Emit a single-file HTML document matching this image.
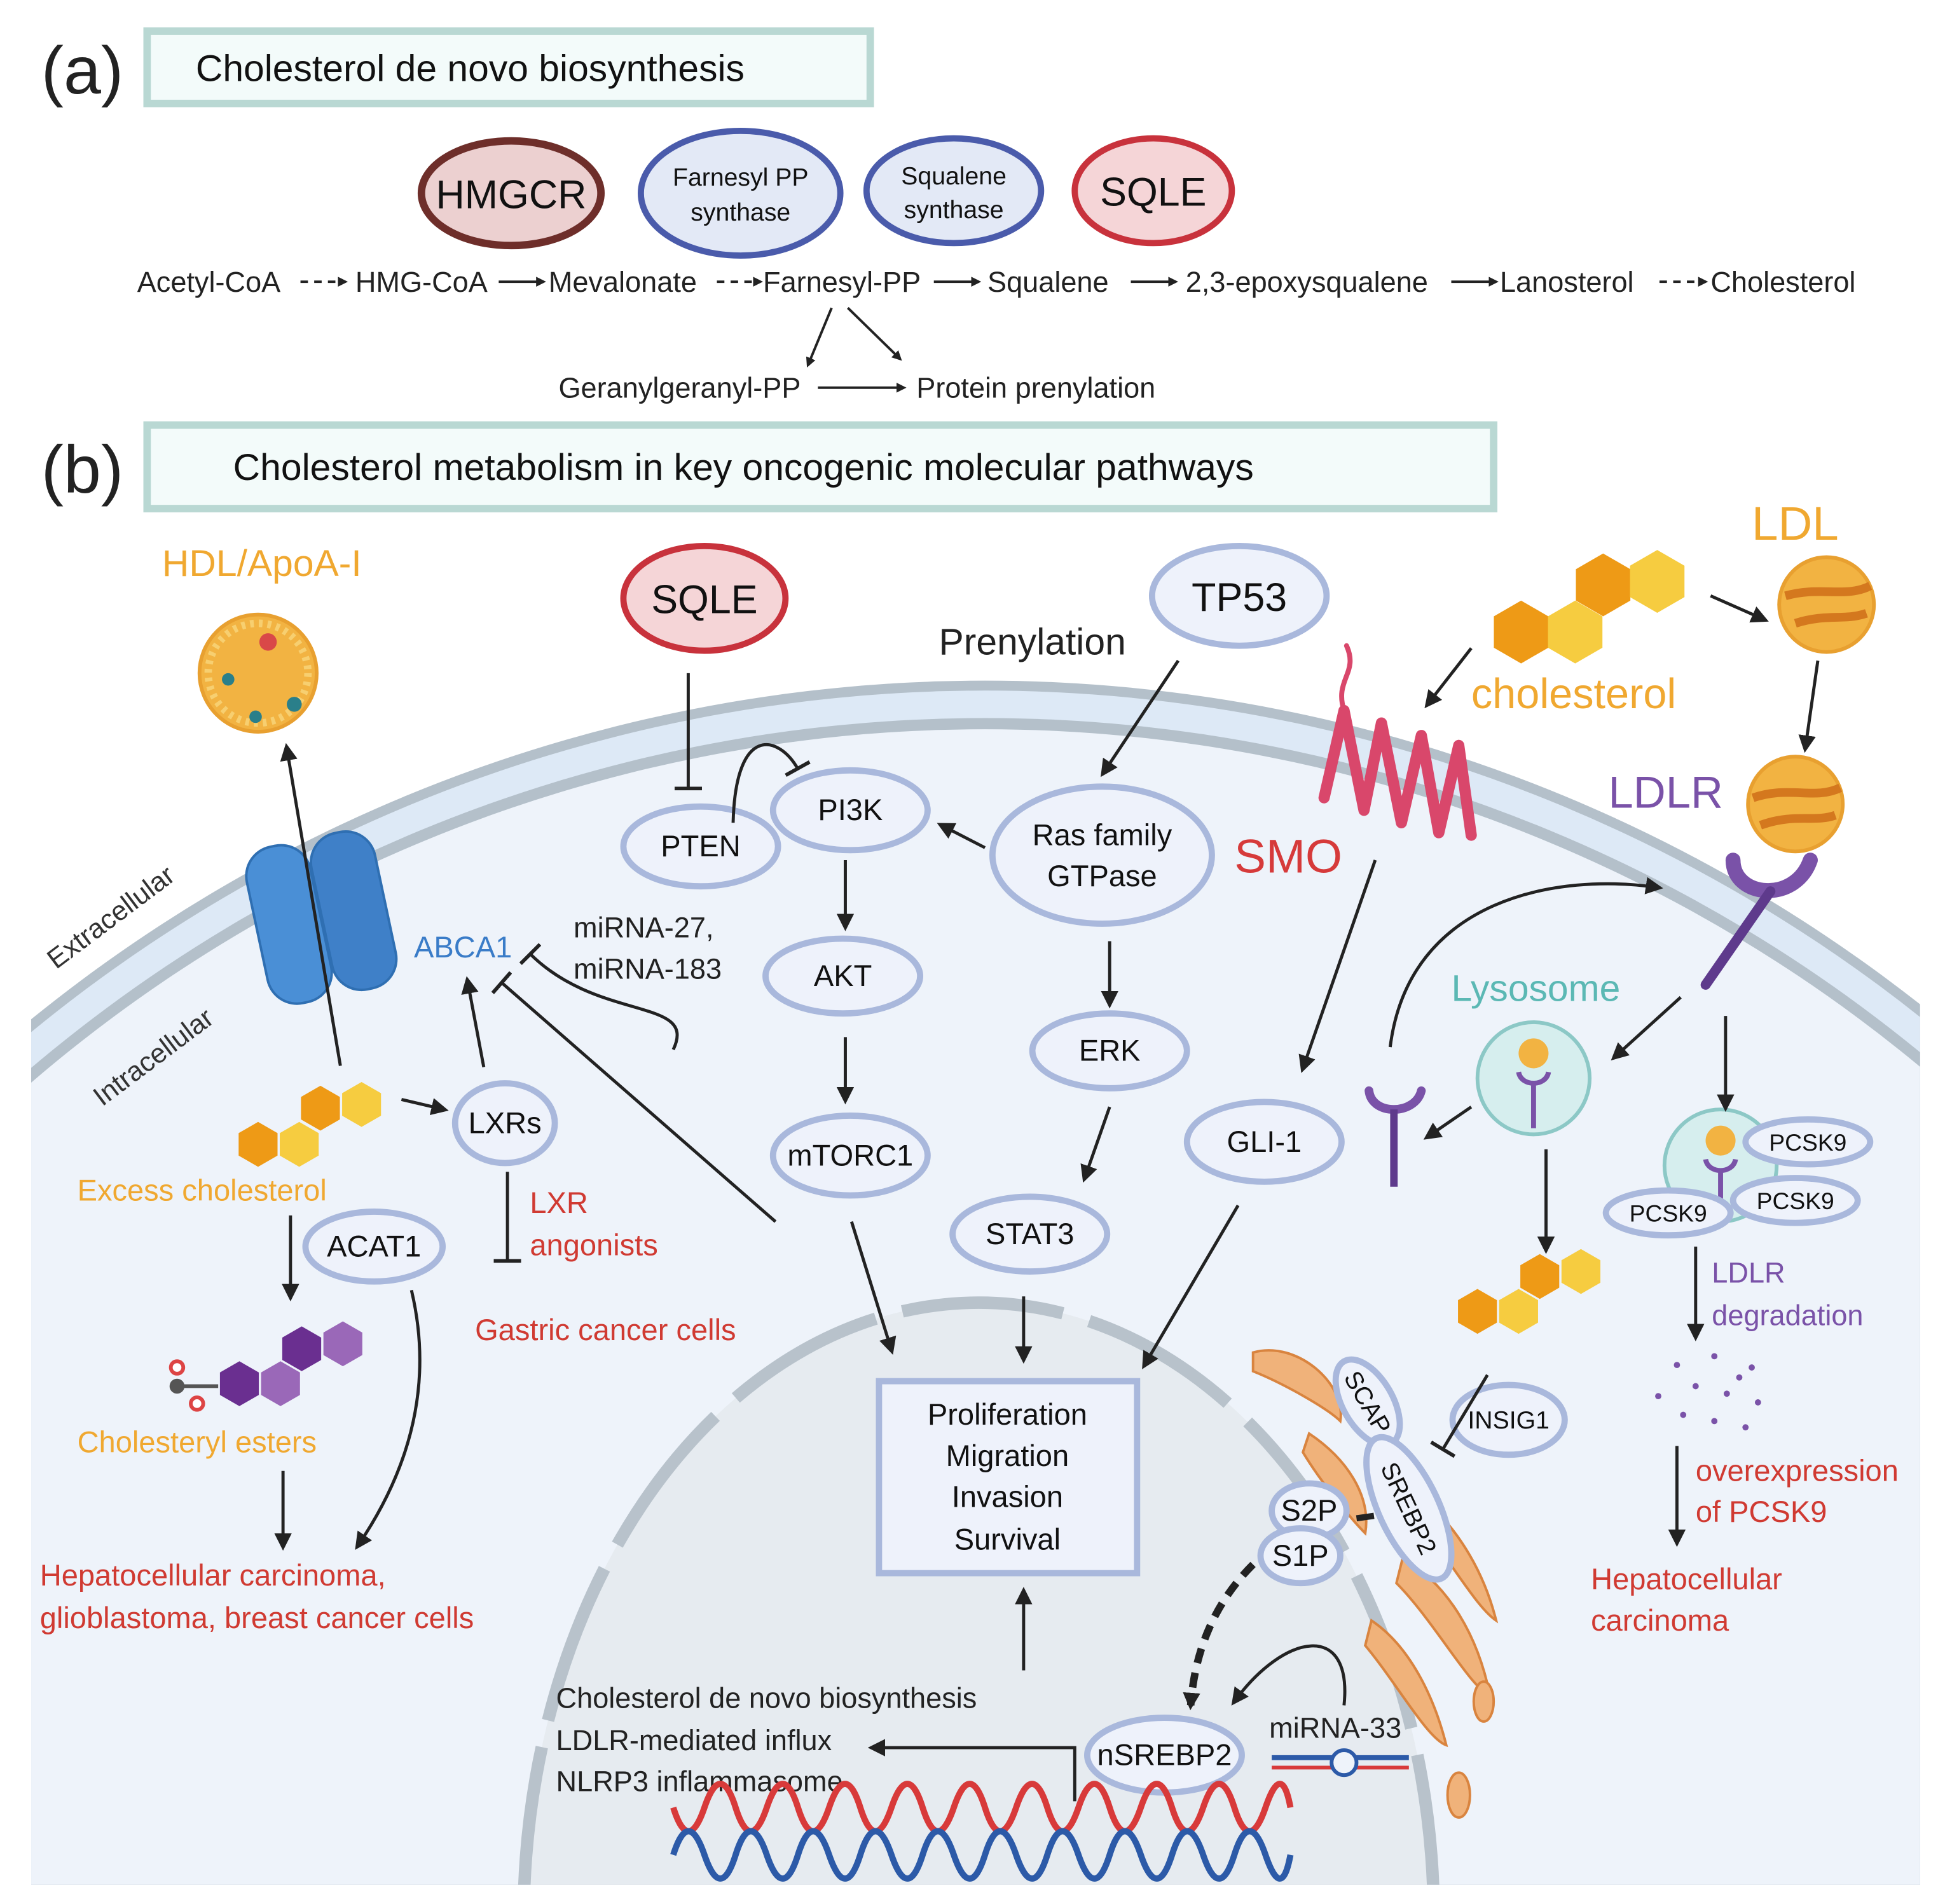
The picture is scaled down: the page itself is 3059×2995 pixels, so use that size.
<!DOCTYPE html>
<html><head><meta charset="utf-8"><style>
html,body{margin:0;padding:0;background:#fff;width:3059px;height:2995px;overflow:hidden}
svg{display:block}
text{font-family:"Liberation Sans",sans-serif}
</style></head><body>
<svg width="3059" height="2995" viewBox="0 0 1560 1527.4" preserveAspectRatio="none" xmlns="http://www.w3.org/2000/svg">
<defs>
<marker id="ar" markerWidth="8" markerHeight="8" refX="6" refY="4" orient="auto" markerUnits="userSpaceOnUse" viewBox="0 0 8 8"><path d="M0,0 L8,4 L0,8 z" fill="#222"/></marker>
<marker id="ar2" markerWidth="14" markerHeight="14" refX="10" refY="7" orient="auto" markerUnits="userSpaceOnUse" viewBox="0 0 14 14"><path d="M0,0 L14,7 L0,14 z" fill="#222"/></marker>
<marker id="tb" markerWidth="4" markerHeight="22" refX="2" refY="11" orient="auto" markerUnits="userSpaceOnUse" viewBox="0 0 4 22"><rect x="0" y="0" width="3" height="22" fill="#222"/></marker>
<clipPath id="cellclip"><rect x="25" y="0" width="1515" height="1512"/></clipPath>
<polygon id="hx" points="0,-18 15.6,-9 15.6,9 0,18 -15.6,9 -15.6,-9"/>
</defs>

<!-- Panel a -->
<text x="33" y="75" font-size="54" fill="#222">(a)</text>
<rect x="118" y="25" width="580" height="58" fill="#f3fbfa" stroke="#b9d8d3" stroke-width="6"/>
<text x="157" y="65" font-size="30" fill="#111">Cholesterol de novo biosynthesis</text>
<ellipse cx="410" cy="155" rx="72" ry="42" fill="#ecd0d0" stroke="#6e2e2a" stroke-width="6"/>
<text x="410" y="167" font-size="32" text-anchor="middle" fill="#111">HMGCR</text>
<ellipse cx="594" cy="155" rx="80" ry="50" fill="#e3e9f6" stroke="#4a5bab" stroke-width="5"/>
<text x="594" y="149" font-size="20" text-anchor="middle" fill="#111">Farnesyl PP</text>
<text x="594" y="177" font-size="20" text-anchor="middle" fill="#111">synthase</text>
<ellipse cx="765" cy="153" rx="70" ry="42" fill="#e3e9f6" stroke="#4a5bab" stroke-width="5"/>
<text x="765" y="148" font-size="20" text-anchor="middle" fill="#111">Squalene</text>
<text x="765" y="175" font-size="20" text-anchor="middle" fill="#111">synthase</text>
<ellipse cx="925" cy="153" rx="63" ry="42" fill="#f5d5d7" stroke="#c8323c" stroke-width="5"/>
<text x="925" y="165" font-size="32" text-anchor="middle" fill="#111">SQLE</text>
<g font-size="23" fill="#222">
<text x="110" y="234">Acetyl-CoA</text>
<text x="285" y="234">HMG-CoA</text>
<text x="440" y="234">Mevalonate</text>
<text x="612" y="234">Farnesyl-PP</text>
<text x="792" y="234">Squalene</text>
<text x="951" y="234">2,3-epoxysqualene</text>
<text x="1203" y="234">Lanosterol</text>
<text x="1372" y="234">Cholesterol</text>
<text x="448" y="319">Geranylgeranyl-PP</text>
<text x="735" y="319">Protein prenylation</text>
</g>
<g stroke="#222" stroke-width="2" fill="none">
<line x1="241" y1="226" x2="277" y2="226" stroke-dasharray="6,5" marker-end="url(#ar)"/>
<line x1="400" y1="226" x2="436" y2="226" marker-end="url(#ar)"/>
<line x1="575" y1="226" x2="610" y2="226" stroke-dasharray="6,5" marker-end="url(#ar)"/>
<line x1="749" y1="226" x2="785" y2="226" marker-end="url(#ar)"/>
<line x1="907" y1="226" x2="943" y2="226" marker-end="url(#ar)"/>
<line x1="1164" y1="226" x2="1200" y2="226" marker-end="url(#ar)"/>
<line x1="1331" y1="226" x2="1368" y2="226" stroke-dasharray="6,5" marker-end="url(#ar)"/>
<line x1="667" y1="247" x2="648" y2="293" marker-end="url(#ar)"/>
<line x1="680" y1="247" x2="722" y2="288" marker-end="url(#ar)"/>
<line x1="656" y1="311" x2="725" y2="311" marker-end="url(#ar)"/>
</g>

<!-- Panel b header -->
<text x="33" y="395" font-size="54" fill="#222">(b)</text>
<rect x="118" y="341" width="1080" height="67" fill="#f3fbfa" stroke="#b9d8d3" stroke-width="6"/>
<text x="187" y="385" font-size="30" fill="#111">Cholesterol metabolism in key oncogenic molecular pathways</text>

<!-- Cell -->
<g clip-path="url(#cellclip)">
<circle cx="790" cy="1759" r="1213" fill="#b4c0ca"/>
<circle cx="790" cy="1759" r="1205" fill="#dde9f6"/>
<circle cx="790" cy="1759" r="1183" fill="#b4c0ca"/>
<circle cx="790" cy="1759" r="1174" fill="#eef3fa"/>
<ellipse cx="785" cy="1540" rx="365" ry="495" fill="#e6ebf0" stroke="#b8c2cb" stroke-width="10" stroke-dasharray="130,22"/>
</g>
<text transform="translate(45,778) rotate(-37)" font-size="22" fill="#333">Extracellular</text>
<text transform="translate(82,888) rotate(-37)" font-size="22" fill="#333">Intracellular</text>

<!-- HDL -->
<text x="130" y="462" font-size="30" fill="#f0a830">HDL/ApoA-I</text>
<circle cx="207" cy="540" r="47" fill="#f2b342" stroke="#e8a030" stroke-width="3"/>
<circle cx="207" cy="540" r="40" fill="none" stroke="#f7cf70" stroke-width="6" stroke-dasharray="3,4"/>
<circle cx="215" cy="515" r="7" fill="#d94848"/><circle cx="236" cy="565" r="6" fill="#2a7f8a"/><circle cx="183" cy="545" r="5" fill="#2a7f8a"/><circle cx="205" cy="575" r="5" fill="#2a7f8a"/>
<g transform="rotate(-12 258 735)">
<rect x="205" y="672" width="52" height="128" rx="24" fill="#4a8fd6" stroke="#2f6fb2" stroke-width="2"/>
<rect x="258" y="672" width="52" height="128" rx="24" fill="#3f80c8" stroke="#2f6fb2" stroke-width="2"/>
</g>
<text x="332" y="768" font-size="24" fill="#3a7cc8">ABCA1</text>

<use href="#hx" x="207" y="918" fill="#ee9a16"/><use href="#hx" x="240" y="918" fill="#f6cc40"/><use href="#hx" x="257" y="889" fill="#ee9a16"/><use href="#hx" x="290" y="886" fill="#f6cc40"/>
<g transform="translate(1220,507) scale(1.4)">
<use href="#hx" x="0" y="0" fill="#ee9a16"/><use href="#hx" x="31" y="0" fill="#f6cc40"/><use href="#hx" x="47" y="-27" fill="#ee9a16"/><use href="#hx" x="78" y="-29" fill="#f6cc40"/>
</g>
<use href="#hx" x="1185" y="1052" fill="#ee9a16"/><use href="#hx" x="1218" y="1052" fill="#f6cc40"/><use href="#hx" x="1235" y="1024" fill="#ee9a16"/><use href="#hx" x="1268" y="1020" fill="#f6cc40"/>
<use href="#hx" x="192" y="1110" fill="#6a2f90"/><use href="#hx" x="225" y="1110" fill="#9a68b8"/><use href="#hx" x="242" y="1082" fill="#6a2f90"/><use href="#hx" x="275" y="1078" fill="#9a68b8"/>
<line x1="142" y1="1112" x2="175" y2="1112" stroke="#555" stroke-width="3"/><circle cx="142" cy="1112" r="6" fill="#555"/><circle cx="142" cy="1097" r="5" fill="#fff" stroke="#d44" stroke-width="3"/><circle cx="158" cy="1126" r="5" fill="#fff" stroke="#d44" stroke-width="3"/>

<text x="62" y="963" font-size="24" fill="#f0a830">Excess cholesterol</text>
<text x="62" y="1165" font-size="24" fill="#f0a830">Cholesteryl esters</text>
<g font-size="24" fill="#d03a32">
<text x="425" y="973">LXR</text><text x="425" y="1007">angonists</text>
<text x="381" y="1075">Gastric cancer cells</text>
<text x="32" y="1272">Hepatocellular carcinoma,</text>
<text x="32" y="1306">glioblastoma, breast cancer cells</text>
<text x="1360" y="1188">overexpression</text><text x="1360" y="1221">of PCSK9</text>
<text x="1276" y="1275">Hepatocellular</text><text x="1276" y="1308">carcinoma</text>
</g>
<g font-size="23" fill="#222">
<text x="460" y="752">miRNA-27,</text><text x="460" y="785">miRNA-183</text>
<text x="446" y="1370">Cholesterol de novo biosynthesis</text>
<text x="446" y="1404">LDLR-mediated influx</text>
<text x="446" y="1437">NLRP3 inflammasome</text>
<text x="1018" y="1394">miRNA-33</text>
</g>
<text x="753" y="525" font-size="30" fill="#222">Prenylation</text>
<text x="990" y="700" font-size="38" fill="#d63a3a">SMO</text>
<text x="1180" y="568" font-size="34" fill="#f0a830">cholesterol</text>
<text x="1405" y="433" font-size="38" fill="#f0a830">LDL</text>
<text x="1290" y="648" font-size="36" fill="#7a52a8">LDLR</text>
<text x="1164" y="803" font-size="30" fill="#5bb8b4">Lysosome</text>
<text x="1373" y="1029" font-size="23" fill="#7a52a8">LDLR</text>
<text x="1373" y="1063" font-size="23" fill="#7a52a8">degradation</text>

<!-- SMO receptor -->
<g stroke="#d9476b" stroke-width="9" fill="none" stroke-linecap="round">
<path d="M1062,640 L1078,570 M1078,570 L1094,650 M1094,650 L1108,580 M1108,580 L1124,660 M1124,660 L1140,590 M1140,590 L1154,668 M1154,668 L1170,598 M1170,598 L1180,670"/>
<path d="M1078,570 C1070,545 1090,540 1080,518" stroke-width="4"/>
</g>
<circle cx="1465" cy="485" r="38" fill="#f2b342" stroke="#e8a030" stroke-width="3"/>
<path d="M1432,478 C1460,470 1480,480 1500,470 M1440,500 C1465,492 1480,498 1497,492" stroke="#d4781e" stroke-width="7" fill="none"/>
<circle cx="1440" cy="645" r="38" fill="#f2b342" stroke="#e8a030" stroke-width="3"/>
<path d="M1406,640 C1435,630 1455,642 1476,632 M1412,662 C1440,652 1455,660 1472,654" stroke="#d4781e" stroke-width="7" fill="none"/>
<path d="M1390,690 C1390,720 1440,725 1452,690" stroke="#7a52a8" stroke-width="12" fill="none" stroke-linecap="round"/>
<line x1="1420" y1="715" x2="1368" y2="790" stroke="#5e3a8c" stroke-width="8" stroke-linecap="round"/>
<path d="M1098,875 C1100,895 1135,895 1140,875" stroke="#7a52a8" stroke-width="7" fill="none" stroke-linecap="round"/>
<line x1="1118" y1="890" x2="1118" y2="952" stroke="#5e3a8c" stroke-width="6"/>
<circle cx="1230" cy="865" r="45" fill="#d6eeee" stroke="#8cc8c6" stroke-width="3"/>
<circle cx="1230" cy="845" r="12" fill="#f2b342"/>
<path d="M1218,860 C1220,872 1240,872 1242,860 M1230,868 L1230,905" stroke="#7a52a8" stroke-width="4" fill="none"/>
<circle cx="1380" cy="935" r="45" fill="#d6eeee" stroke="#8cc8c6" stroke-width="3"/>
<circle cx="1380" cy="915" r="12" fill="#f2b342"/>
<path d="M1368,930 C1370,942 1390,942 1392,930 M1380,938 L1380,970" stroke="#7a52a8" stroke-width="4" fill="none"/>
<g fill="#7a52a8">
<circle cx="1345" cy="1095" r="2.5"/><circle cx="1375" cy="1088" r="2.5"/><circle cx="1405" cy="1097" r="2.5"/><circle cx="1330" cy="1120" r="2.5"/><circle cx="1360" cy="1112" r="2.5"/><circle cx="1385" cy="1118" r="2.5"/><circle cx="1410" cy="1125" r="2.5"/><circle cx="1350" cy="1135" r="2.5"/><circle cx="1375" cy="1140" r="2.5"/><circle cx="1400" cy="1145" r="2.5"/><circle cx="1395" cy="1105" r="2.5"/>
</g>
<g fill="#f0b27a" stroke="#d9843f" stroke-width="2">
<path d="M1005,1085 C1040,1075 1080,1110 1075,1140 C1065,1130 1030,1110 1005,1100 Z"/>
<path d="M1050,1150 C1080,1170 1100,1200 1095,1230 C1085,1220 1060,1190 1045,1165 Z"/>
<path d="M1125,1250 C1160,1270 1185,1310 1195,1360 C1180,1355 1150,1300 1120,1270 Z"/>
<path d="M1100,1300 C1130,1320 1150,1360 1160,1400 C1145,1395 1120,1350 1095,1320 Z"/>
<path d="M1150,1210 C1170,1230 1190,1260 1200,1300 C1185,1290 1165,1255 1145,1230 Z"/>
<ellipse cx="1170" cy="1440" rx="9" ry="18"/><ellipse cx="1190" cy="1365" rx="8" ry="16"/>
</g>

<g fill="#eef2fb" stroke="#a9b8dc" stroke-width="5">
<ellipse cx="994" cy="478" rx="70" ry="40"/>
<ellipse cx="562" cy="679" rx="62" ry="32"/>
<ellipse cx="682" cy="650" rx="62" ry="32"/>
<ellipse cx="884" cy="686" rx="88" ry="55"/>
<ellipse cx="676" cy="783" rx="62" ry="30"/>
<ellipse cx="890" cy="843" rx="62" ry="30"/>
<ellipse cx="682" cy="927" rx="62" ry="32"/>
<ellipse cx="826" cy="990" rx="62" ry="30"/>
<ellipse cx="1014" cy="916" rx="62" ry="32"/>
<ellipse cx="405" cy="901" rx="40" ry="32"/>
<ellipse cx="300" cy="1000" rx="55" ry="28"/>
<ellipse cx="1210" cy="1139" rx="45" ry="28"/>
<ellipse cx="1450" cy="916" rx="50" ry="18"/>
<ellipse cx="1440" cy="963" rx="50" ry="18"/>
<ellipse cx="1338" cy="973" rx="50" ry="18"/>
<ellipse cx="1050" cy="1212" rx="30" ry="22"/>
<ellipse cx="1043" cy="1248" rx="32" ry="22"/>
<ellipse cx="934" cy="1408" rx="62" ry="30"/>
<ellipse cx="1097" cy="1125" rx="38" ry="20" transform="rotate(60 1097 1125)"/>
<ellipse cx="1130" cy="1210" rx="62" ry="24" transform="rotate(65 1130 1210)"/>
<rect x="705" y="1108" width="207" height="154"/>
</g>
<ellipse cx="565" cy="480" rx="65" ry="42" fill="#f5d5d7" stroke="#c8323c" stroke-width="5"/>
<g font-size="24" fill="#111" text-anchor="middle">
<text x="565" y="492" font-size="32">SQLE</text>
<text x="994" y="490" font-size="32">TP53</text>
<text x="562" y="687">PTEN</text>
<text x="682" y="658">PI3K</text>
<text x="884" y="678">Ras family</text>
<text x="884" y="711">GTPase</text>
<text x="676" y="791">AKT</text>
<text x="890" y="851">ERK</text>
<text x="682" y="935">mTORC1</text>
<text x="826" y="998">STAT3</text>
<text x="1014" y="924">GLI-1</text>
<text x="405" y="909">LXRs</text>
<text x="300" y="1008">ACAT1</text>
<text x="1210" y="1146" font-size="20">INSIG1</text>
<text x="1450" y="923" font-size="19">PCSK9</text>
<text x="1440" y="970" font-size="19">PCSK9</text>
<text x="1338" y="980" font-size="19">PCSK9</text>
<text x="1050" y="1220">S2P</text>
<text x="1043" y="1256">S1P</text>
<text x="934" y="1416">nSREBP2</text>
<text x="1097" y="1132" font-size="20" transform="rotate(60 1097 1125)">SCAP</text>
<text x="1130" y="1217" font-size="20" transform="rotate(65 1130 1210)">SREBP2</text>
<text x="808" y="1143">Proliferation</text>
<text x="808" y="1176">Migration</text>
<text x="808" y="1209">Invasion</text>
<text x="808" y="1243">Survival</text>
</g>

<!-- DNA -->
<path d="M540,1450 Q552,1488 565,1450 T590,1450 T615,1450 T640,1450 T665,1450 T690,1450 T715,1450 T740,1450 T765,1450 T790,1450 T815,1450 T840,1450 T865,1450 T890,1450 T915,1450 T940,1450 T965,1450 T990,1450 T1015,1450 T1035,1450" stroke="#d83a3a" stroke-width="5" fill="none"/>
<path d="M540,1488 Q552,1450 565,1488 T590,1488 T615,1488 T640,1488 T665,1488 T690,1488 T715,1488 T740,1488 T765,1488 T790,1488 T815,1488 T840,1488 T865,1488 T890,1488 T915,1488 T940,1488 T965,1488 T990,1488 T1015,1488 T1035,1488" stroke="#2c5aa8" stroke-width="5" fill="none"/>
<line x1="1020" y1="1410" x2="1130" y2="1410" stroke="#2c5aa8" stroke-width="4"/>
<line x1="1020" y1="1418" x2="1130" y2="1418" stroke="#d83a3a" stroke-width="3"/>
<circle cx="1078" cy="1414" r="10" fill="#eef3fa" stroke="#2c5aa8" stroke-width="3"/>

<g stroke="#222" stroke-width="2.5" fill="none">
<line x1="273" y1="855" x2="230" y2="600" marker-end="url(#ar2)"/>
<line x1="322" y1="882" x2="356" y2="890" marker-end="url(#ar2)"/>
<line x1="388" y1="856" x2="375" y2="787" marker-end="url(#ar2)"/>
<line x1="407" y1="940" x2="407" y2="1012" marker-end="url(#tb)"/>
<line x1="233" y1="975" x2="233" y2="1040" marker-end="url(#ar2)"/>
<path d="M330,1035 Q355,1140 287,1240" marker-end="url(#ar2)"/>
<line x1="227" y1="1180" x2="227" y2="1240" marker-end="url(#ar2)"/>
<path d="M540,842 C560,800 480,820 425,765" marker-end="url(#tb)"/>
<line x1="622" y1="980" x2="402" y2="788" marker-end="url(#tb)"/>
<line x1="552" y1="540" x2="552" y2="633" marker-end="url(#tb)"/>
<path d="M588,660 C590,580 625,590 640,617" marker-end="url(#tb)"/>
<line x1="790" y1="680" x2="755" y2="662" marker-end="url(#ar2)"/>
<line x1="945" y1="530" x2="885" y2="620" marker-end="url(#ar2)"/>
<line x1="678" y1="690" x2="678" y2="743" marker-end="url(#ar2)"/>
<line x1="678" y1="832" x2="678" y2="882" marker-end="url(#ar2)"/>
<line x1="890" y1="755" x2="890" y2="805" marker-end="url(#ar2)"/>
<line x1="890" y1="888" x2="870" y2="945" marker-end="url(#ar2)"/>
<line x1="821" y1="1040" x2="821" y2="1090" marker-end="url(#ar2)"/>
<line x1="683" y1="980" x2="715" y2="1083" marker-end="url(#ar2)"/>
<line x1="993" y1="967" x2="918" y2="1095" marker-end="url(#ar2)"/>
<line x1="1103" y1="690" x2="1045" y2="857" marker-end="url(#ar2)"/>
<line x1="1180" y1="520" x2="1145" y2="565" marker-end="url(#ar2)"/>
<line x1="1372" y1="478" x2="1415" y2="497" marker-end="url(#ar2)"/>
<line x1="1458" y1="530" x2="1448" y2="600" marker-end="url(#ar2)"/>
<path d="M1115,840 C1130,720 1250,700 1330,712" marker-end="url(#ar2)"/>
<line x1="1348" y1="800" x2="1295" y2="848" marker-end="url(#ar2)"/>
<line x1="1180" y1="888" x2="1145" y2="912" marker-end="url(#ar2)"/>
<line x1="1384" y1="815" x2="1384" y2="888" marker-end="url(#ar2)"/>
<line x1="1240" y1="922" x2="1240" y2="1002" marker-end="url(#ar2)"/>
<line x1="1360" y1="1000" x2="1360" y2="1072" marker-end="url(#ar2)"/>
<line x1="1345" y1="1160" x2="1345" y2="1237" marker-end="url(#ar2)"/>
<line x1="821" y1="1340" x2="821" y2="1277" marker-end="url(#ar2)"/>
<path d="M862,1445 L862,1402 L700,1402" marker-end="url(#ar2)"/>
<path d="M1078,1368 C1085,1300 1030,1310 990,1365" marker-end="url(#ar2)"/>
<path d="M1005,1255 Q960,1300 955,1368" stroke-width="6" stroke-dasharray="12,8" marker-end="url(#ar2)"/>
<line x1="1088" y1="1218" x2="1102" y2="1216" stroke-width="5"/>
<line x1="1193" y1="1103" x2="1157" y2="1163" marker-end="url(#tb)"/>
</g>
</svg>
</body></html>
